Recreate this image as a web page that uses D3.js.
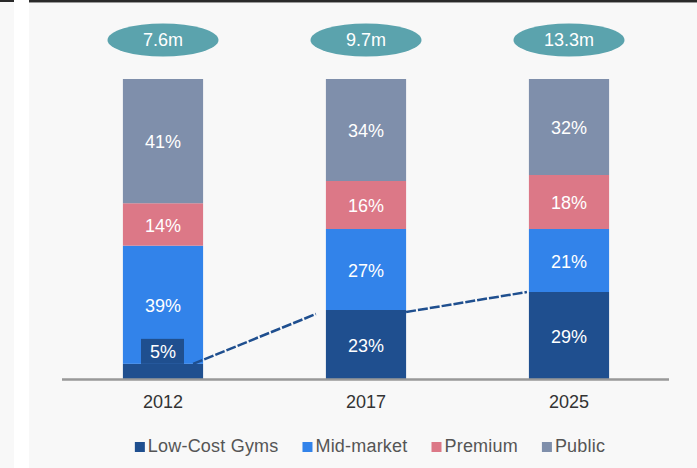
<!DOCTYPE html>
<html>
<head>
<meta charset="utf-8">
<script src="https://cdn.jsdelivr.net/npm/d3@7"></script>
<style>
  html, body { margin: 0; padding: 0; background: #f8f8f8; }
  svg { display: block; font-family: "Liberation Sans", Arial, sans-serif; }
</style>
</head>
<body>
<svg id="chart" width="697" height="468"></svg>
<script>
const years = ["2012", "2017", "2025"];
const totals = ["7.6m", "9.7m", "13.3m"];
const seriesNames = ["Low-Cost Gyms", "Mid-market", "Premium", "Public"];
const lowCost = [5, 23, 29];
const midMarket = [39, 27, 21];
const premium = [14, 16, 18];
const publicSector = [41, 34, 32];
const colors = ["#1f4f8f", "#3283ea", "#dc7887", "#7f8fab"];

const rows = years.map((y, i) => ({
  year: y,
  "Low-Cost Gyms": lowCost[i],
  "Mid-market": midMarket[i],
  "Premium": premium[i],
  "Public": publicSector[i]
}));

const svg = d3.select("#chart");
const W = 697, H = 468;

// frame
svg.append("rect").attr("x", 0).attr("y", 0).attr("width", W).attr("height", H).attr("fill", "#f8f8f8");
svg.append("rect").attr("x", 14).attr("y", 0).attr("width", 15).attr("height", H).attr("fill", "#ffffff");
svg.append("rect").attr("x", 0).attr("y", 0).attr("width", 14).attr("height", 2).attr("fill", "#2a2a2a");
svg.append("rect").attr("x", 29).attr("y", 0).attr("width", W - 29).attr("height", 2).attr("fill", "#2a2a2a");
svg.append("rect").attr("x", 29).attr("y", 2).attr("width", W - 29).attr("height", 1).attr("fill", "#9a9a9a");

const x = d3.scaleBand().domain(years).range([62, 670]).paddingInner(0.605).paddingOuter(0.3);
const y = d3.scaleLinear().domain([0, 1]).range([379, 79]);
const bw = x.bandwidth();

const stack = d3.stack().keys(seriesNames).offset(d3.stackOffsetExpand);
const series = stack(rows);

const gBars = svg.append("g");
series.forEach((s, si) => {
  gBars.selectAll(null).data(s).enter().append("rect")
    .attr("x", d => x(d.data.year))
    .attr("y", d => y(d[1]))
    .attr("width", bw)
    .attr("height", d => y(d[0]) - y(d[1]))
    .attr("fill", colors[si]);
});

// dashed connectors between low-cost tops
const low = series[0];
const connectors = [
  { x1: x(years[0]) + bw - 10, y1: y(low[0][1]), x2: x(years[1]) - 10, y2: y(low[1][1]) + 4 },
  { x1: x(years[1]) + bw, y1: y(low[1][1]) + 2, x2: x(years[2]) - 2, y2: y(low[2][1]) }
];
svg.selectAll(null).data(connectors).enter().append("line")
  .attr("x1", d => d.x1).attr("y1", d => d.y1)
  .attr("x2", d => d.x2).attr("y2", d => d.y2)
  .attr("stroke", "#1f4f8f").attr("stroke-width", 2.5)
  .attr("stroke-dasharray", "10,2");

// axis
const axis = d3.axisBottom(x).tickSize(0).tickPadding(16);
const gAxis = svg.append("g").attr("transform", "translate(0,379.5)").call(axis);
gAxis.select(".domain").remove();
gAxis.append("line").attr("x1", 62).attr("x2", 669).attr("y1", 0).attr("y2", 0)
  .attr("stroke", "#999").attr("stroke-width", 2.5);
gAxis.selectAll(".tick text")
  .attr("font-size", 18).attr("fill", "#333")
  .attr("font-family", "Liberation Sans, Arial, sans-serif");

// segment labels
const gLab = svg.append("g");
series.forEach((s, si) => {
  s.forEach((d, i) => {
    const top = y(d[1]), bot = y(d[0]);
    const h = bot - top;
    const cx = x(d.data.year) + bw / 2;
    const txt = d.data[s.key] + "%";
    let cy = (top + bot) / 2 + 1;
    if (h < 20) {
      cy = top - 12.5;
      gLab.append("rect").attr("x", cx - 22).attr("y", cy - 12.5)
        .attr("width", 43).attr("height", 25).attr("fill", colors[si]);
    }
    gLab.append("text").attr("x", cx).attr("y", cy).attr("dy", "0.35em")
      .attr("text-anchor", "middle").attr("font-size", 18).attr("fill", "#ffffff")
      .text(txt);
  });
});

// total ellipses
const gTot = svg.append("g");
years.forEach((yr, i) => {
  const cx = x(yr) + bw / 2;
  gTot.append("ellipse").attr("cx", cx).attr("cy", 40).attr("rx", 55.5).attr("ry", 16.5)
    .attr("fill", "#5ba3ad");
  gTot.append("text").attr("x", cx).attr("y", 40).attr("dy", "0.35em")
    .attr("text-anchor", "middle").attr("font-size", 18).attr("fill", "#ffffff")
    .text(totals[i]);
});

// legend
const gLeg = svg.append("g").attr("transform", "translate(0,452)");
let cur = 0;
const items = [];
seriesNames.forEach((n, i) => {
  const g = gLeg.append("g");
  g.append("rect").attr("x", 0).attr("y", -10).attr("width", 10).attr("height", 10).attr("fill", colors[i]);
  const t = g.append("text").attr("x", 13).attr("y", 0).attr("font-size", 18).attr("fill", "#555")
    .attr("letter-spacing", 0.2).text(n);
  const w = 13 + t.node().getComputedTextLength();
  items.push({ g, w });
});
const gap = 24;
const totalW = d3.sum(items, d => d.w) + gap * (items.length - 1);
cur = 370 - totalW / 2;
items.forEach(it => {
  it.g.attr("transform", `translate(${cur},0)`);
  cur += it.w + gap;
});
</script>
</body>
</html>
